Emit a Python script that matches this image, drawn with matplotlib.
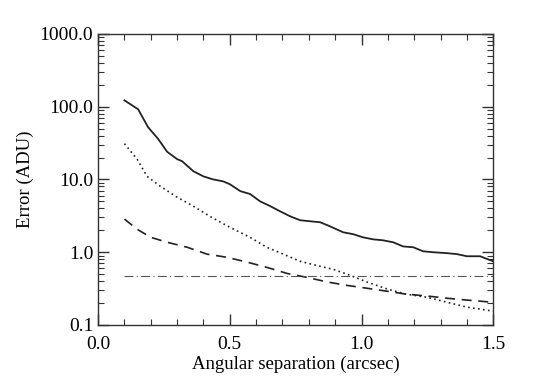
import matplotlib
matplotlib.use('Agg')
import matplotlib.pyplot as plt
from matplotlib.ticker import MultipleLocator, FixedLocator, LogLocator, NullFormatter, FormatStrFormatter

plt.rcParams['font.family'] = 'Liberation Serif'

# solid curve
x_solid = [0.10, 0.152, 0.19, 0.228, 0.262, 0.30, 0.319, 0.361, 0.40, 0.437, 0.475, 0.50,
           0.54, 0.577, 0.615, 0.653, 0.69, 0.73, 0.767, 0.805, 0.843, 0.88, 0.93, 0.968,
           1.006, 1.045, 1.08, 1.12, 1.158, 1.196, 1.234, 1.27, 1.325, 1.363, 1.40, 1.45, 1.50]
y_solid = [122, 92, 52, 36, 24, 19, 17.8, 13, 11, 10, 9.4, 8.6,
           6.9, 6.3, 5.0, 4.3, 3.66, 3.1, 2.75, 2.66, 2.58, 2.27, 1.88, 1.77,
           1.6, 1.5, 1.46, 1.37, 1.2, 1.17, 1.03, 1.0, 0.97, 0.94, 0.88, 0.88, 0.75]

# dotted curve
x_dot = [0.10, 0.148, 0.186, 0.235, 0.30, 0.361, 0.425, 0.50, 0.577, 0.64, 0.703, 0.767,
         0.843, 0.893, 0.945, 1.02, 1.10, 1.17, 1.25, 1.325, 1.40, 1.50]
y_dot = [31, 19, 11, 8.1, 5.7, 4.3, 3.1, 2.2, 1.6, 1.17, 0.94, 0.75,
         0.64, 0.58, 0.50, 0.39, 0.31, 0.265, 0.24, 0.205, 0.176, 0.155]

# dashed curve
x_dash = [0.10, 0.148, 0.20, 0.262, 0.338, 0.414, 0.49, 0.566, 0.64, 0.718, 0.794, 0.87,
          0.945, 1.02, 1.10, 1.17, 1.25, 1.325, 1.40, 1.50]
y_dash = [2.85, 2.07, 1.6, 1.37, 1.17, 0.94, 0.85, 0.73, 0.62, 0.51, 0.45, 0.39,
          0.35, 0.32, 0.29, 0.265, 0.25, 0.233, 0.22, 0.205]

# horizontal level
x_level = [0.10, 1.50]
y_level = [0.47, 0.47]

fig = plt.figure(figsize=(5.45, 3.9), dpi=100)
ax = fig.add_axes([0.18, 0.1667, 0.725, 0.7465])

ax.plot(x_solid, y_solid, color='#222222', lw=1.3, ls='-')
ax.plot(x_dot, y_dot, color='#222222', lw=1.2, ls=(0, (1, 2)))
ax.plot(x_dash, y_dash, color='#222222', lw=1.2, ls=(0, (6, 4)))
ax.plot(x_level, y_level, color='#555555', lw=0.8, ls=(0, (8, 3, 1, 3)))

ax.set_yscale('log')
ax.set_xlim(0, 1.5)
ax.set_ylim(0.1, 1000)
ax.xaxis.set_major_locator(MultipleLocator(0.5))
ax.xaxis.set_minor_locator(MultipleLocator(0.1))
ax.xaxis.set_major_formatter(FormatStrFormatter('%.1f'))
ax.yaxis.set_major_locator(FixedLocator([0.1, 1, 10, 100, 1000]))
ax.yaxis.set_minor_locator(LogLocator(base=10, subs=range(2, 10)))
ax.yaxis.set_minor_formatter(NullFormatter())
ax.yaxis.set_major_formatter(FormatStrFormatter('%.1f'))

ax.tick_params(which='both', direction='in', top=True, right=True, labelsize=14, color='#333333')
ax.tick_params(which='major', length=8, width=1)
ax.tick_params(which='minor', length=4, width=0.8)
ax.tick_params(axis='x', pad=8)
for s in ax.spines.values():
    s.set_linewidth(1)
    s.set_color('#333333')

ax.set_xlabel('Angular separation (arcsec)', fontsize=13.5, labelpad=2)
ax.set_ylabel('Error (ADU)', fontsize=13.5, labelpad=4)

fig.savefig('out.png', dpi=100)
